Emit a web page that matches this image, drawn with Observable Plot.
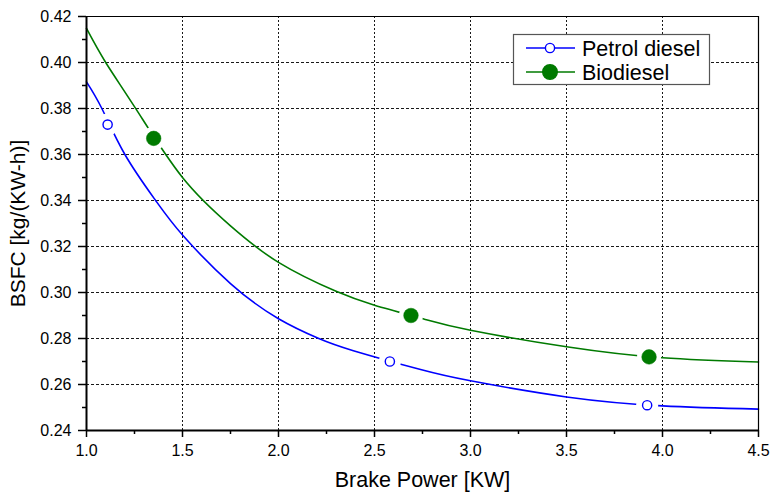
<!DOCTYPE html>
<html>
<head>
<meta charset="utf-8">
<script src="https://cdn.jsdelivr.net/npm/d3@7"></script>
<script src="https://cdn.jsdelivr.net/npm/@observablehq/plot@0.6"></script>
<style>
  body { margin: 0; background: white; }
  #wrap { position: relative; width: 774px; height: 495px; }
  #legend { position: absolute; left: 0; top: 0; pointer-events: none; }
</style>
</head>
<body>
<div id="wrap"></div>
<script>
// Measured points
const petrolX = [1.11, 2.58, 3.92];
const petrolY = [0.373, 0.270, 0.251];
const bioX = [1.35, 2.69, 3.93];
const bioY = [0.367, 0.290, 0.272];

// Fitted curves
const petrolCurveX = [1.0, 1.08, 1.2, 1.36, 1.5, 1.75, 2.0, 2.21, 2.39, 2.74, 3.0, 3.5, 4.0, 4.5];
const petrolCurveY = [0.3916, 0.380, 0.360, 0.340, 0.3250, 0.3039, 0.2886, 0.2800, 0.2747, 0.2665, 0.2616, 0.2546, 0.2507, 0.2493];
const bioCurveX = [1.0, 1.1, 1.26, 1.5, 1.75, 2.0, 2.3, 2.5, 2.76, 3.0, 3.5, 4.0, 4.5];
const bioCurveY = [0.4148, 0.400, 0.3795, 0.3500, 0.3290, 0.3131, 0.3005, 0.2945, 0.2884, 0.2836, 0.2764, 0.2716, 0.2698];

// Ticks and labels
const xTicks = [1.0, 1.5, 2.0, 2.5, 3.0, 3.5, 4.0, 4.5];
const xMinor = [1.25, 1.75, 2.25, 2.75, 3.25, 3.75, 4.25];
const yTicks = [0.24, 0.26, 0.28, 0.30, 0.32, 0.34, 0.36, 0.38, 0.40, 0.42];
const yMinor = [0.25, 0.27, 0.29, 0.31, 0.33, 0.35, 0.37, 0.39, 0.41];
const xGrid = [1.5, 2.0, 2.5, 3.0, 3.5, 4.0];
const yGrid = [0.26, 0.28, 0.30, 0.32, 0.34, 0.36, 0.38, 0.40];
const xLabel = "Brake Power [KW]";
const yLabel = "BSFC [kg/(KW-h)]";
const seriesNames = ["Petrol diesel", "Biodiesel"];

const blue = "#0000ff";
const green = "#007a00";

const petrolCurve = petrolCurveX.map((x, i) => ({x, y: petrolCurveY[i]}));
const bioCurve = bioCurveX.map((x, i) => ({x, y: bioCurveY[i]}));
const petrolPts = petrolX.map((x, i) => ({x, y: petrolY[i]}));
const bioPts = bioX.map((x, i) => ({x, y: bioY[i]}));

const font = "'Liberation Sans', Arial, Helvetica, sans-serif";

const chart = Plot.plot({
  width: 774,
  height: 495,
  marginLeft: 86,
  marginRight: 16,
  marginTop: 16,
  marginBottom: 65,
  style: {fontFamily: font, fontSize: "16px", color: "black", background: "white"},
  x: {domain: [1.0, 4.5]},
  y: {domain: [0.24, 0.42]},
  marks: [
    Plot.gridX(xGrid, {stroke: "#000", strokeOpacity: 0.9, strokeDasharray: "2,2", strokeWidth: 1}),
    Plot.gridY(yGrid, {stroke: "#000", strokeOpacity: 0.9, strokeDasharray: "3,2", strokeWidth: 1}),
    Plot.line(petrolCurve, {x: "x", y: "y", stroke: blue, strokeWidth: 1.6, curve: "natural"}),
    Plot.line(bioCurve, {x: "x", y: "y", stroke: green, strokeWidth: 1.6, curve: "natural"}),
    Plot.dot(petrolPts, {x: "x", y: "y", r: 11, fill: "white", stroke: "none"}),
    Plot.dot(bioPts, {x: "x", y: "y", r: 12, fill: "white", stroke: "none"}),
    Plot.dot(petrolPts, {x: "x", y: "y", r: 4.6, fill: "white", stroke: blue, strokeWidth: 1.4}),
    Plot.dot(bioPts, {x: "x", y: "y", r: 7.3, fill: green, stroke: green, strokeWidth: 0.5}),
    // frame
    Plot.ruleY([0.42], {stroke: "#000", strokeWidth: 1.2}),
    Plot.ruleX([4.5], {stroke: "#000", strokeWidth: 1.2}),
    Plot.ruleX([1.0], {stroke: "#000", strokeWidth: 2}),
    Plot.ruleY([0.24], {stroke: "#000", strokeWidth: 2}),
    // axes
    Plot.axisX({ticks: xTicks, tickFormat: d => d.toFixed(1), tickSize: 7, tickPadding: 7, strokeWidth: 1.5, label: null, fontSize: 16}),
    Plot.axisX({ticks: xMinor, tickFormat: () => "", tickSize: 4, strokeWidth: 1.5, label: null}),
    Plot.axisY({ticks: yTicks, tickFormat: d => d.toFixed(2), tickSize: 8, tickPadding: 7, strokeWidth: 1.5, label: null, fontSize: 16}),
    Plot.axisY({ticks: yMinor, tickFormat: () => "", tickSize: 4, strokeWidth: 1.5, label: null}),
    Plot.text([xLabel], {frameAnchor: "bottom", lineAnchor: "middle", textAnchor: "middle", dy: 50, fontSize: 21.5, text: d => d, fill: "#000"}),
    Plot.text([yLabel], {frameAnchor: "left", lineAnchor: "middle", textAnchor: "middle", dx: -68, rotate: -90, fontSize: 21, text: d => d, fill: "#000"})
  ]
});

const wrap = document.getElementById("wrap");
wrap.appendChild(chart);

// Legend overlay
const ns = "http://www.w3.org/2000/svg";
const leg = document.createElementNS(ns, "svg");
leg.setAttribute("id", "legend");
leg.setAttribute("width", 774);
leg.setAttribute("height", 495);
const box = {x: 513.5, y: 34.5, w: 196, h: 50};
const rect = document.createElementNS(ns, "rect");
rect.setAttribute("x", box.x); rect.setAttribute("y", box.y);
rect.setAttribute("width", box.w); rect.setAttribute("height", box.h);
rect.setAttribute("fill", "white"); rect.setAttribute("stroke", "#555"); rect.setAttribute("stroke-width", 1.2);
leg.appendChild(rect);
const rows = [
  {name: seriesNames[0], color: blue, fill: "white", r: 4.6, cy: 48},
  {name: seriesNames[1], color: green, fill: green, r: 7.3, cy: 72}
];
for (const row of rows) {
  const ln = document.createElementNS(ns, "line");
  ln.setAttribute("x1", 526); ln.setAttribute("x2", 575);
  ln.setAttribute("y1", row.cy); ln.setAttribute("y2", row.cy);
  ln.setAttribute("stroke", row.color); ln.setAttribute("stroke-width", 1.6);
  leg.appendChild(ln);
  const c = document.createElementNS(ns, "circle");
  c.setAttribute("cx", 550); c.setAttribute("cy", row.cy); c.setAttribute("r", row.r);
  c.setAttribute("fill", row.fill); c.setAttribute("stroke", row.color); c.setAttribute("stroke-width", 1.4);
  leg.appendChild(c);
  const t = document.createElementNS(ns, "text");
  t.setAttribute("x", 582); t.setAttribute("y", row.cy);
  t.setAttribute("dy", "0.36em");
  t.setAttribute("font-family", font); t.setAttribute("font-size", 21.5);
  t.setAttribute("fill", "#000");
  t.textContent = row.name;
  leg.appendChild(t);
}
wrap.appendChild(leg);
</script>
</body>
</html>
